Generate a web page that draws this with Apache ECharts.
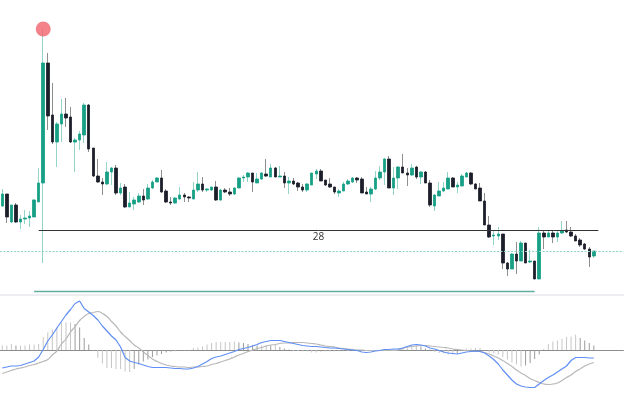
<!DOCTYPE html>
<html>
<head>
<meta charset="utf-8">
<script src="https://cdn.jsdelivr.net/npm/echarts@6/dist/echarts.min.js"></script>
<style>
  html, body { margin: 0; padding: 0; background: #fff; }
  #chart { width: 625px; height: 414px; }
</style>
</head>
<body>
<div id="chart"></div>
<script>
// price candles, one per session
const opens = [
  29.2, 29.8, 28.4, 29.25, 28.4, 28.55, 28.6, 28.65, 29.4, 30.35,
  36.35, 33.75, 32.4, 33.3, 33.8, 33.65, 32.4, 32.5, 32.75, 34.25,
  32.1, 30.7, 30.4, 30.3, 30.9, 31.1, 29.85, 30.15, 29.15, 29.3,
  29.4, 29.7, 29.55, 30.1, 30.4, 30.6, 29.95, 29.4, 29.35, 29.55,
  29.75, 29.65, 29.55, 30.0, 30.3, 30.0, 30.0, 30.15, 29.5, 30.0,
  29.9, 29.8, 30.1, 30.6, 30.65, 30.85, 30.35, 30.55, 30.8, 30.65,
  31.1, 30.65, 30.7, 30.35, 30.45, 30.35, 30.15, 30.0, 30.25, 30.8,
  30.95, 30.5, 30.3, 30.15, 29.85, 29.95, 30.3, 30.4, 30.6, 30.55,
  29.9, 29.8, 30.05, 30.6, 30.9, 31.55, 30.1, 30.6, 31.15, 30.85,
  30.75, 31.15, 30.65, 30.9, 30.35, 29.2, 29.7, 29.95, 30.05, 30.6,
  30.15, 30.2, 30.65, 30.85, 30.3, 30.1, 29.45, 28.25, 27.7, 27.7,
  27.8, 26.35, 26.05, 26.8, 26.45, 27.35, 26.4, 26.45, 25.55, 27.85,
  27.65, 27.85, 27.65, 27.85, 28.0, 27.9, 27.7, 27.5, 27.3, 27.05,
  26.7
];
const closes = [
  29.8, 28.65, 29.25, 28.4, 28.55, 28.6, 28.7, 29.5, 30.35, 36.35,
  33.7, 32.4, 33.3, 33.8, 33.6, 32.4, 32.5, 32.8, 34.25, 32.05,
  30.7, 30.4, 30.3, 30.9, 31.1, 29.85, 30.1, 29.15, 29.35, 29.5,
  29.7, 29.5, 30.1, 30.4, 30.6, 29.9, 29.4, 29.35, 29.6, 29.75,
  29.65, 29.6, 30.0, 30.3, 30.0, 30.05, 30.15, 29.5, 30.0, 29.9,
  29.8, 30.1, 30.6, 30.65, 30.85, 30.4, 30.55, 30.85, 30.7, 31.1,
  30.65, 30.7, 30.35, 30.45, 30.3, 30.15, 30.0, 30.3, 30.85, 30.95,
  30.45, 30.25, 30.15, 29.9, 29.95, 30.3, 30.45, 30.6, 30.5, 29.85,
  29.8, 30.05, 30.6, 30.9, 31.55, 30.1, 30.6, 31.15, 30.85, 30.75,
  31.1, 30.65, 30.9, 30.35, 29.25, 29.75, 29.95, 30.1, 30.6, 30.15,
  30.25, 30.7, 30.85, 30.3, 30.05, 29.45, 28.25, 27.65, 27.75, 27.8,
  26.35, 26.05, 26.8, 26.45, 27.35, 26.35, 26.45, 25.55, 27.85, 27.65,
  27.85, 27.65, 27.85, 27.95, 27.9, 27.7, 27.45, 27.25, 27.05, 26.65,
  26.95
];
const highs = [
  30.05, 29.8, 29.25, 29.35, 28.75, 29.0, 28.95, 29.55, 31.1, 38.05,
  36.85, 35.35, 33.4, 34.55, 34.6, 34.15, 32.6, 32.95, 34.35, 34.3,
  32.1, 31.55, 30.6, 31.4, 31.15, 31.25, 30.35, 30.3, 29.9, 29.65,
  29.85, 30.05, 30.3, 30.5, 30.65, 31.0, 30.05, 29.65, 29.65, 30.15,
  29.85, 29.7, 30.4, 30.9, 30.65, 30.1, 30.15, 30.45, 30.05, 30.1,
  30.1, 30.15, 30.65, 30.75, 30.9, 30.85, 30.85, 30.9, 31.55, 31.3,
  31.15, 31.2, 30.9, 30.65, 30.6, 30.4, 30.3, 30.35, 30.85, 31.05,
  31.05, 30.5, 30.6, 30.15, 30.05, 30.4, 30.55, 30.65, 30.65, 30.65,
  30.15, 30.15, 30.95, 31.2, 31.6, 31.7, 31.15, 31.2, 31.8, 31.1,
  31.3, 31.2, 30.95, 30.95, 30.5, 29.8, 30.4, 30.4, 30.9, 30.65,
  30.4, 30.8, 30.9, 30.9, 30.35, 30.35, 29.85, 28.7, 28.0, 28.15,
  27.8, 26.4, 26.85, 27.4, 27.45, 27.35, 27.0, 26.45, 28.15, 27.95,
  27.95, 27.95, 27.95, 28.45, 28.45, 28.15, 27.8, 27.6, 27.35, 27.15,
  26.95
];
const lows = [
  29.15, 28.35, 28.35, 28.35, 28.05, 28.3, 28.15, 28.65, 29.4, 26.35,
  33.0, 32.3, 31.15, 32.4, 33.15, 32.35, 30.9, 32.0, 32.35, 31.9,
  30.65, 30.35, 29.75, 30.25, 30.25, 29.75, 29.75, 29.1, 29.15, 29.0,
  29.35, 29.25, 29.5, 30.05, 30.4, 29.85, 29.35, 29.25, 29.3, 29.5,
  29.4, 29.4, 29.55, 29.9, 29.9, 29.9, 29.95, 29.45, 29.45, 29.85,
  29.7, 29.75, 30.1, 30.4, 30.4, 29.9, 30.35, 30.5, 30.65, 30.65,
  30.65, 30.65, 30.1, 29.8, 30.25, 29.95, 29.9, 29.9, 30.25, 30.55,
  30.45, 30.2, 30.1, 29.8, 29.65, 29.95, 30.25, 30.35, 30.35, 29.85,
  29.8, 29.4, 30.0, 30.5, 30.25, 30.1, 29.75, 30.05, 30.85, 30.2,
  30.7, 30.55, 30.3, 30.35, 29.15, 28.95, 29.7, 29.9, 30.05, 30.15,
  29.85, 30.2, 30.65, 30.25, 30.05, 29.45, 28.25, 27.6, 27.25, 27.5,
  26.05, 25.7, 26.05, 25.8, 26.45, 26.35, 26.35, 25.55, 25.55, 27.05,
  27.65, 27.35, 27.4, 27.8, 27.85, 27.65, 27.45, 27.15, 27.0, 26.15,
  26.6
];

// MACD panel
const difValues = [
  -0.36, -0.34, -0.32, -0.32, -0.31, -0.28, -0.25, -0.22, -0.14, 0.01,
  0.18, 0.30, 0.44, 0.57, 0.70, 0.81, 0.93, 0.98, 0.83, 0.76,
  0.69, 0.60, 0.48, 0.38, 0.28, 0.20, 0.06, -0.15, -0.22, -0.25,
  -0.27, -0.30, -0.33, -0.35, -0.35, -0.35, -0.35, -0.36, -0.37, -0.37,
  -0.38, -0.38, -0.36, -0.33, -0.28, -0.23, -0.17, -0.14, -0.12, -0.09,
  -0.06, -0.03, 0.01, 0.03, 0.05, 0.08, 0.11, 0.15, 0.17, 0.19,
  0.19, 0.19, 0.17, 0.15, 0.13, 0.11, 0.09, 0.08, 0.07, 0.07,
  0.06, 0.05, 0.04, 0.04, 0.03, 0.02, 0.01, 0.00, -0.01, -0.04,
  -0.05, -0.04, -0.02, -0.01, 0.01, 0.01, 0.02, 0.02, 0.04, 0.07,
  0.10, 0.11, 0.10, 0.08, 0.04, 0.02, -0.01, -0.04, -0.06, -0.07,
  -0.08, -0.06, -0.04, -0.03, -0.02, -0.03, -0.06, -0.12, -0.19, -0.28,
  -0.40, -0.50, -0.60, -0.68, -0.72, -0.74, -0.75, -0.75, -0.68, -0.61,
  -0.55, -0.50, -0.44, -0.38, -0.32, -0.21, -0.15, -0.15, -0.15, -0.16,
  -0.16
];
const deaValues = [
  -0.47, -0.44, -0.41, -0.38, -0.36, -0.34, -0.31, -0.29, -0.26, -0.23,
  -0.19, -0.10, -0.02, 0.12, 0.22, 0.36, 0.47, 0.59, 0.67, 0.73,
  0.75, 0.77, 0.73, 0.67, 0.57, 0.48, 0.36, 0.27, 0.19, 0.10,
  0.04, -0.04, -0.11, -0.18, -0.23, -0.27, -0.30, -0.32, -0.33, -0.34,
  -0.34, -0.35, -0.34, -0.34, -0.33, -0.32, -0.29, -0.27, -0.24, -0.21,
  -0.18, -0.14, -0.10, -0.07, -0.03, 0.00, 0.03, 0.05, 0.08, 0.10,
  0.11, 0.13, 0.14, 0.14, 0.15, 0.15, 0.15, 0.14, 0.13, 0.12,
  0.10, 0.08, 0.07, 0.06, 0.04, 0.03, 0.02, 0.01, 0.00, 0.00,
  -0.01, -0.01, -0.01, -0.01, -0.01, -0.01, -0.01, 0.00, 0.03, 0.06,
  0.07, 0.08, 0.09, 0.09, 0.08, 0.07, 0.06, 0.05, 0.04, 0.02,
  0.01, 0.00, -0.01, -0.02, -0.03, -0.03, -0.05, -0.08, -0.12, -0.16,
  -0.21, -0.27, -0.33, -0.40, -0.46, -0.51, -0.57, -0.61, -0.65, -0.68,
  -0.69, -0.68, -0.66, -0.61, -0.55, -0.50, -0.43, -0.38, -0.32, -0.28,
  -0.25
];
const histValues = [
  0.09, 0.09, 0.12, 0.09, 0.09, 0.09, 0.11, 0.11, 0.12, 0.26,
  0.35, 0.41, 0.45, 0.54, 0.55, 0.55, 0.52, 0.45, 0.24, 0.11,
  -0.02, -0.16, -0.27, -0.36, -0.36, -0.38, -0.38, -0.43, -0.44, -0.38,
  -0.29, -0.23, -0.19, -0.14, -0.11, -0.08, -0.05, -0.03, -0.03, -0.01,
  -0.01, -0.01, 0.04, 0.05, 0.07, 0.11, 0.14, 0.16, 0.16, 0.16,
  0.16, 0.17, 0.15, 0.14, 0.12, 0.10, 0.09, 0.09, 0.10, 0.09,
  0.11, 0.06, 0.03, 0.01, -0.02, -0.02, -0.03, -0.03, -0.05, -0.05,
  -0.03, -0.03, -0.03, -0.03, -0.03, -0.02, -0.02, -0.01, -0.01, -0.01,
  -0.01, -0.01, -0.01, 0.01, 0.02, 0.02, 0.03, 0.03, 0.04, 0.07,
  0.09, 0.09, 0.07, 0.03, 0.01, -0.04, -0.06, -0.07, -0.09, -0.09,
  -0.07, -0.01, 0.03, 0.03, 0.04, 0.04, -0.02, -0.05, -0.07, -0.09,
  -0.14, -0.19, -0.25, -0.29, -0.33, -0.31, -0.26, -0.18, -0.09, 0.01,
  0.12, 0.17, 0.19, 0.22, 0.26, 0.27, 0.31, 0.24, 0.19, 0.14,
  0.09
];

// drawn levels
const levelPrice = 28
const levelFrom = 8
const levelTo = 131
const floorPrice = 24.95
const floorFrom = 7
const floorTo = 117
const slotCount = 137

const UP = '#17a086'
const DOWN = '#1c1f2b'
const UP_WICK = '#93d4c8'
const DOWN_WICK = '#8e8e8e'

const categories = Array.from({ length: slotCount }, (_, i) => String(i + 1))
const wickData = opens.map((o, i) => [o, closes[i], lows[i], highs[i]])
const bodyData = opens.map((o, i) => [o, closes[i], Math.min(o, closes[i]), Math.max(o, closes[i])])
const lastClose = closes[closes.length - 1]

const chart = echarts.init(document.getElementById('chart'), null, { renderer: 'canvas' })

chart.setOption({
  animation: false,
  backgroundColor: '#fff',
  grid: [
    { left: -1.3, right: 1.6, top: 0, bottom: 119 },
    { left: -1.3, right: 1.6, top: 296, bottom: 0 },
  ],
  xAxis: [
    {
      type: 'category', gridIndex: 0, data: categories, boundaryGap: true,
      axisLine: { show: true, onZero: false, lineStyle: { color: '#eceef2', width: 2 } },
      axisTick: { show: false }, axisLabel: { show: false }, splitLine: { show: false },
    },
    {
      type: 'category', gridIndex: 1, data: categories, boundaryGap: true,
      axisLine: { show: true, onZero: true, lineStyle: { color: '#8c8c8c', width: 1 } },
      axisTick: { show: false }, axisLabel: { show: false }, splitLine: { show: false },
    },
  ],
  yAxis: [
    { type: 'value', gridIndex: 0, min: 24.75, max: 39.5, show: false, splitLine: { show: false } },
    { type: 'value', gridIndex: 1, min: -1.28, max: 1.08, show: false, splitLine: { show: false } },
  ],
  series: [
    {
      name: 'wicks',
      type: 'candlestick',
      xAxisIndex: 0, yAxisIndex: 0,
      barWidth: 1,
      data: wickData,
      itemStyle: { color: UP_WICK, color0: DOWN_WICK, borderColor: UP_WICK, borderColor0: DOWN_WICK, borderWidth: 1 },
      markPoint: {
        silent: true,
        symbol: 'circle',
        symbolSize: 15,
        itemStyle: { color: 'rgba(242,102,112,0.82)' },
        label: { show: false },
        data: [{ type: 'max', valueDim: 'highest' }],
      },
      markLine: {
        silent: true,
        symbol: ['none', 'none'],
        data: [
          [
            { coord: [levelFrom, levelPrice], lineStyle: { color: '#333', width: 1, type: 'solid' },
              label: { show: true, position: 'insideMiddleBottom', distance: 2, formatter: String(levelPrice), color: '#333', fontSize: 10, fontFamily: 'Open Sans' } },
            { coord: [levelTo, levelPrice] },
          ],
          [
            { coord: [floorFrom, floorPrice], lineStyle: { color: '#46a08f', width: 1.4, type: 'solid', opacity: 0.85 }, label: { show: false } },
            { coord: [floorTo, floorPrice] },
          ],
          { yAxis: lastClose, lineStyle: { color: '#8fd2c6', width: 1, type: [2, 1.5] }, label: { show: false } },
        ],
      },
    },
    {
      name: 'bodies',
      type: 'candlestick',
      xAxisIndex: 0, yAxisIndex: 0,
      barWidth: 3,
      data: bodyData,
      itemStyle: { color: UP, color0: DOWN, borderColor: UP, borderColor0: DOWN, borderWidth: 0.8 },
    },
    {
      name: 'MACD',
      type: 'bar',
      xAxisIndex: 1, yAxisIndex: 1,
      barWidth: 1,
      data: histValues,
      itemStyle: {
        color: (p) => {
          const prev = p.dataIndex > 0 ? histValues[p.dataIndex - 1] : 0
          return Math.abs(p.value) >= Math.abs(prev) ? '#c6c6c6' : '#9c9c9c'
        },
      },
    },
    {
      name: 'DEA',
      type: 'line',
      xAxisIndex: 1, yAxisIndex: 1,
      data: deaValues,
      symbol: 'none',
      smooth: true,
      lineStyle: { color: '#b8b8b8', width: 1.2 },
    },
    {
      name: 'DIF',
      type: 'line',
      xAxisIndex: 1, yAxisIndex: 1,
      data: difValues,
      symbol: 'none',
      lineStyle: { color: '#5f8ff5', width: 1.2 },
    },
  ],
})
</script>
</body>
</html>
